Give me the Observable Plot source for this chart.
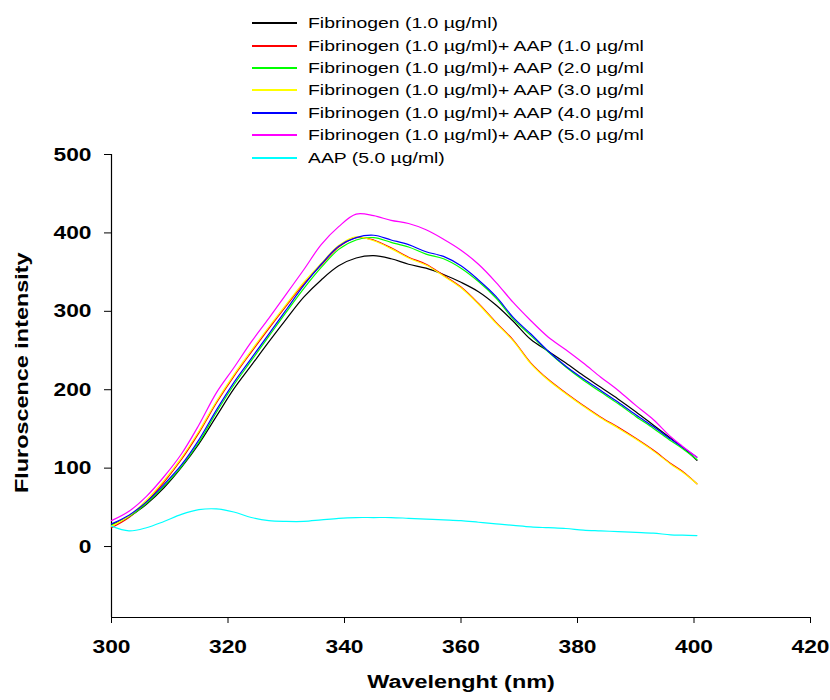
<!DOCTYPE html>
<html>
<head>
<meta charset="utf-8">
<script src="https://cdn.jsdelivr.net/npm/d3@7"></script>
<script src="https://cdn.jsdelivr.net/npm/@observablehq/plot@0.6"></script>
<style>
  body { margin: 0; background: #fff; }
  #wrap { position: relative; width: 830px; height: 700px; }
  #legend { position: absolute; left: 252px; top: 12px; font-family: "Liberation Sans", Arial, sans-serif; font-size: 15.5px; color: #000; }
  .row { display: flex; align-items: center; height: 22.4px; }
  .sw { display: block; flex: none; width: 45px; height: 2px; margin-right: 11px; }
  .lbl { display: inline-block; transform: scaleX(1.25); transform-origin: left center; white-space: nowrap; }
</style>
</head>
<body>
<div id="wrap"><div id="legend"></div></div>
<script>
const wavelength = [300,303,306,309,312,315,318,321,324,327,330,333,336,339,342,345,348,351,354,357,360,363,366,369,372,375,378,381,384,387,390,393,396,398,400.5];
const fibrinogen = [28,38,54,75,101,131,166,201,231,261,290,318,340,358,368,371,367,360,355,347,337,325,308,287,264,249,234,218,203,188,172,155,138,127,110];
const aap1 = [24,37,57,82,111,145,183,217,248,278,307,335,359,382,394,391,381,369,360,346,331,310,286,263,234,213,196,180,165,152,138,123,106,96,80];
const aap2 = [27,38,55,77,102,133,171,206,237,268,299,329,356,379,391,394,388,382,373,367,355,338,317,290,269,248,229,212,197,182,166,151,135,125,111];
const aap3 = [26,39,59,84,113,147,185,219,250,280,309,337,361,384,395,390,380,368,359,345,330,309,285,262,233,212,195,179,164,151,137,122,105,95,80];
const aap4 = [29,40,57,79,104,136,174,209,240,271,302,333,360,383,394,397,391,385,376,370,358,340,319,292,271,249,230,214,199,184,168,153,137,127,114];
const aap5 = [33,45,64,89,118,155,196,228,261,291,322,353,385,408,424,422,416,412,404,392,378,360,337,311,288,267,251,234,216,199,180,162,140,128,114];
const aapOnly = [26,20,24,32,41,47,48,44,37,33,32,32,34,36,37,37,37,36,35,34,33,31,29,27,25,24,23,21,20,19,18,17,15,14.5,14];

const seriesNames = [
  "Fibrinogen (1.0 µg/ml)",
  "Fibrinogen (1.0 µg/ml)+ AAP (1.0 µg/ml",
  "Fibrinogen (1.0 µg/ml)+ AAP (2.0 µg/ml",
  "Fibrinogen (1.0 µg/ml)+ AAP (3.0 µg/ml",
  "Fibrinogen (1.0 µg/ml)+ AAP (4.0 µg/ml",
  "Fibrinogen (1.0 µg/ml)+ AAP (5.0 µg/ml",
  "AAP (5.0 µg/ml)"
];
const seriesColors = ["#000000","#ff0000","#00ff00","#ffff00","#0000ff","#ff00ff","#00ffff"];
const seriesValues = [fibrinogen, aap1, aap2, aap3, aap4, aap5, aapOnly];

const xTicks = [300,320,340,360,380,400,420];
const yTicks = [0,100,200,300,400,500];
const xTitle = "Wavelenght (nm)";
const yTitle = "Fluroscence intensity";

const series = seriesValues.map((vals, i) =>
  vals.map((v, j) => ({x: wavelength[j], y: v, name: seriesNames[i]})));

const chart = Plot.plot({
  width: 830,
  height: 700,
  marginLeft: 111,
  marginRight: 20,
  marginTop: 154,
  marginBottom: 83,
  style: {fontFamily: "'Liberation Sans', Arial, sans-serif", fontSize: "19px", fontWeight: "bold", color: "#000", background: "#fff"},
  x: {domain: [300, 420]},
  y: {domain: [-90.5, 500]},
  marks: [
    Plot.axisX({ticks: xTicks, tickSize: 6, tickPadding: 16, label: null, tickFormat: d => String(d)}),
    Plot.axisY({ticks: yTicks, tickSize: 7, tickPadding: 13, label: null, tickFormat: d => String(d)}),
    Plot.ruleX([300], {stroke: "#000", strokeWidth: 1.2}),
    Plot.ruleY([-90.5], {stroke: "#000", strokeWidth: 1.2}),
    ...series.map((s, i) => Plot.line(s, {x: "x", y: "y", stroke: seriesColors[i], strokeWidth: 1.2, curve: "catmull-rom"})),
    Plot.text([xTitle], {frameAnchor: "bottom", dy: 70, text: d => d, fontSize: 18, fontWeight: "bold"}),
    Plot.text([yTitle], {frameAnchor: "left", dx: -89, dy: 107, rotate: -90, textAnchor: "start", text: d => d, fontSize: 18, fontWeight: "bold"})
  ]
});

const wrap = document.getElementById("wrap");
wrap.insertBefore(chart, wrap.firstChild);
chart.style.position = "absolute";
chart.style.left = "0";
chart.style.top = "0";

chart.querySelectorAll("text").forEach(t => {
  const content = t.textContent;
  const factor = (content === xTitle || content === yTitle) ? 1.3 : 1.2;
  const len = t.getComputedTextLength();
  if (len > 0) {
    t.setAttribute("textLength", (len * factor).toFixed(1));
    t.setAttribute("lengthAdjust", "spacingAndGlyphs");
  }
});

const legend = document.getElementById("legend");
seriesNames.forEach((name, i) => {
  const row = document.createElement("div");
  row.className = "row";
  const sw = document.createElement("span");
  sw.className = "sw";
  sw.style.backgroundColor = seriesColors[i];
  const lbl = document.createElement("span");
  lbl.className = "lbl";
  lbl.textContent = name;
  row.appendChild(sw);
  row.appendChild(lbl);
  legend.appendChild(row);
});
</script>
</body>
</html>
